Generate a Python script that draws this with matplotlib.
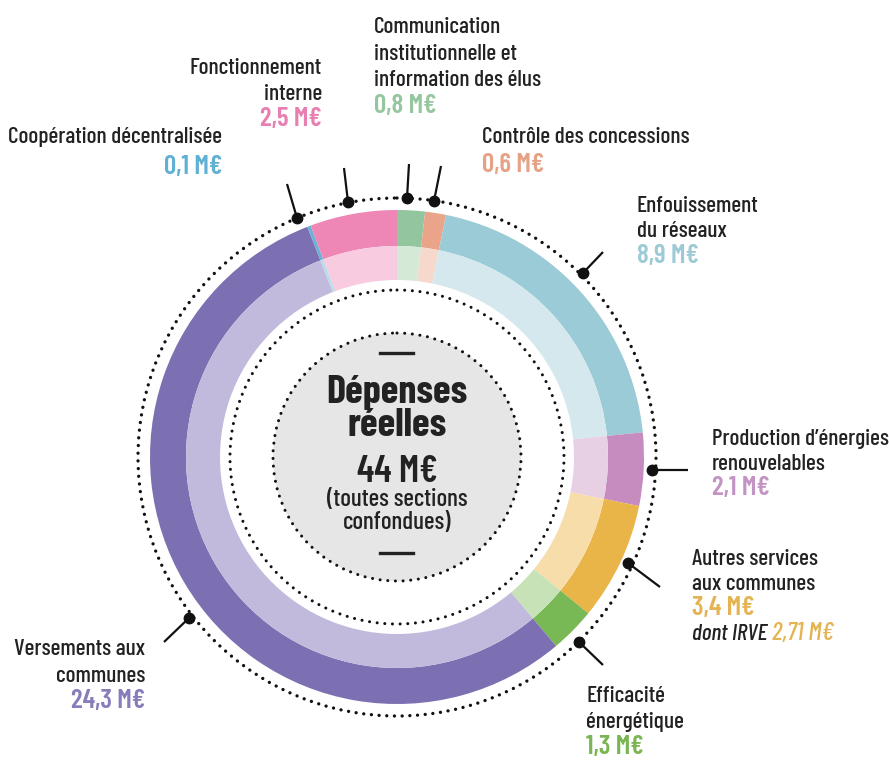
import matplotlib
matplotlib.use("Agg")
import matplotlib.pyplot as plt
from matplotlib.patches import Circle

# ---------------- data ----------------
categories = [
    "Communication\ninstitutionnelle et\ninformation des élus",
    "Contrôle des concessions",
    "Enfouissement\ndu réseaux",
    "Production d’énergies\nrenouvelables",
    "Autres services\naux communes",
    "Efficacité\nénergétique",
    "Versements aux\ncommunes",
    "Coopération décentralisée",
    "Fonctionnement\ninterne",
]
values = [0.8, 0.6, 8.9, 2.1, 3.4, 1.3, 24.3, 0.1, 2.5]
irve_value = 2.71

# ---------------- style ----------------
dark_colors = ["#93c59f", "#e9a48a", "#9bcbd6", "#c68cbf", "#e9b549",
               "#78b855", "#7d70b2", "#6ab3d6", "#ee86b6"]
light_colors = ["#d5e9d7", "#f6d8cc", "#d4e8ee", "#e7cfe4", "#f7ddaa",
                "#c8e2b8", "#c2badd", "#b7dcec", "#f8cbe0"]
value_colors = ["#96c69d", "#e5a286", "#9ccad7", "#c394c3", "#e5b452",
                "#79b551", "#877dbb", "#5fb0d3", "#e87fb1"]

FONT = ["Barlow Condensed", "DejaVu Sans"]
TXT = "#222222"
FS_NAME = 16.8
FS_VALUE = 19.5

# label layout (pixel coords, y from top): x, ha, name baselines, value baseline
label_layout = [
    (374, "left", [33, 60, 86], 113),
    (482, "left", [143], 172),
    (637, "left", [212, 237], 263),
    (712, "left", [445, 470], 495),
    (692, "left", [565, 590], 615),
    (586, "left", [702, 728], 754),
    (145, "right", [655, 682], 708),
    (222, "right", [143], 174),
    (322, "right", [74, 100], 126),
]
# leader lines: dot (on dotted circle) -> outer end
leader_layout = [
    ((407, 198), (409, 164)),
    ((434, 201), (441, 166)),
    ((583, 273), (603, 252)),
    ((652, 470), (688, 470)),
    ((628, 563), (660, 587)),
    ((579, 642), (603, 665)),
    ((189, 618), (164, 642)),
    ((297, 218), (287, 184)),
    ((348, 202), (344, 168)),
]

CX, CY = 397, 457
R_OUT, R_MID, R_IN = 247, 211, 177
R_DOT_OUT, R_DOT_IN, R_CENTER = 259, 167, 124

fig = plt.figure(figsize=(8.89, 7.63), dpi=100)
ax = fig.add_axes([0, 0, 1, 1])

# rings (y axis inverted -> startangle -90 & counterclock=True = clockwise from top)
ax.pie(values, colors=dark_colors, radius=R_OUT, center=(CX, CY),
       startangle=-90, counterclock=True,
       wedgeprops=dict(width=R_OUT - R_MID, linewidth=0))
ax.pie(values, colors=light_colors, radius=R_MID, center=(CX, CY),
       startangle=-90, counterclock=True,
       wedgeprops=dict(width=R_MID - R_IN, linewidth=0))

ax.set_xlim(0, 889)
ax.set_ylim(763, 0)
ax.set_aspect("equal")
ax.axis("off")

dot_style = dict(fill=False, edgecolor="#111111", capstyle="round")
ax.add_patch(Circle((CX, CY), R_DOT_OUT, linewidth=2.4, linestyle=(0, (0.01, 2.3)), **dot_style))
ax.add_patch(Circle((CX, CY), R_DOT_IN, linewidth=2.2, linestyle=(0, (0.01, 2.5)), **dot_style))
ax.add_patch(Circle((CX, CY), R_CENTER, facecolor="#e6e6e6", edgecolor="none"))
ax.add_patch(Circle((CX, CY), R_CENTER, linewidth=2.2, linestyle=(0, (0.01, 2.5)), **dot_style))

# leader lines
for (d, e) in leader_layout:
    ax.plot([d[0], e[0]], [d[1], e[1]], color="#111111", lw=1.6, solid_capstyle="butt")
    ax.plot([d[0]], [d[1]], marker="o", ms=7.5, color="#111111")

def fmt(v, nd=1):
    return f"{v:.{nd}f}".replace(".", ",") + " M€"

# labels
for cat, v, vc, (x, ha, bls, vbl) in zip(categories, values, value_colors, label_layout):
    for line, bl in zip(cat.split("\n"), bls):
        ax.text(x, bl, line, ha=ha, va="baseline", fontsize=FS_NAME, color=TXT,
                family=FONT, fontweight="medium")
    ax.text(x, vbl, fmt(v), ha=ha, va="baseline", fontsize=FS_VALUE, color=vc,
            family=FONT, fontweight="semibold")

# IRVE sub-line
ia = categories.index("Autres services\naux communes")
x_i = label_layout[ia][0]
t1 = ax.text(x_i, 640, "dont IRVE", ha="left", va="baseline", fontsize=FS_NAME,
             color=TXT, family=FONT, fontstyle="italic", fontweight="medium")
fig.canvas.draw()
bb = t1.get_window_extent()
x_end = ax.transData.inverted().transform((bb.x1, bb.y0))[0]
ax.text(x_end + 5, 640, fmt(irve_value, 2), ha="left", va="baseline", fontsize=18.5,
        color=value_colors[ia], family=FONT, fontstyle="italic", fontweight="medium")

# centre
total = sum(values)
ax.plot([CX - 17, CX + 16], [353, 353], color="#222222", lw=2.4)
ax.plot([CX - 17, CX + 16], [553, 553], color="#222222", lw=2.4)
ax.text(CX, 403, "Dépenses", ha="center", va="baseline", fontsize=29,
        fontweight="bold", color=TXT, family=FONT)
ax.text(CX, 436, "réelles", ha="center", va="baseline", fontsize=29,
        fontweight="bold", color=TXT, family=FONT)
ax.text(CX, 482, f"{total:.0f} M€", ha="center", va="baseline", fontsize=27,
        fontweight="semibold", color=TXT, family=FONT)
ax.text(CX, 506, "(toutes sections", ha="center", va="baseline", fontsize=18,
        color=TXT, family=FONT, fontweight="medium")
ax.text(CX, 529, "confondues)", ha="center", va="baseline", fontsize=18,
        color=TXT, family=FONT, fontweight="medium")

fig.savefig("out.png", dpi=100, facecolor="white")
